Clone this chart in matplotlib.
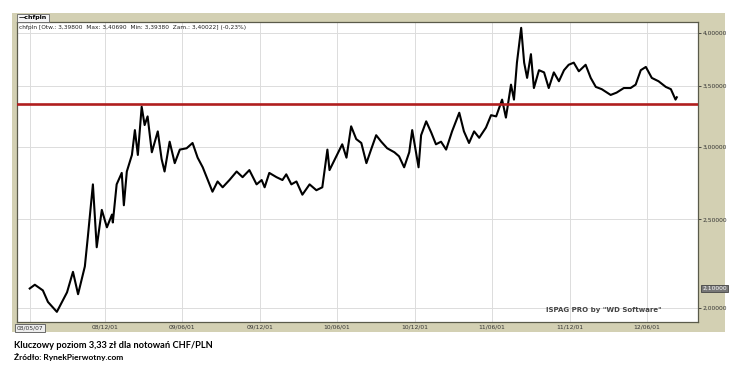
import datetime as dt
import matplotlib
matplotlib.use("Agg")
import matplotlib.pyplot as plt
import matplotlib.transforms as mtransforms
from matplotlib.patches import Rectangle
from matplotlib.ticker import NullLocator, NullFormatter

# CHF/PLN close (roughly every two weeks)
dates = [
    "2008-06-06", "2008-06-18", "2008-07-07", "2008-07-19", "2008-08-09", "2008-08-21",
    "2008-09-02", "2008-09-16", "2008-09-28", "2008-10-14", "2008-10-21", "2008-11-02",
    "2008-11-11", "2008-11-23", "2008-12-05", "2008-12-17", "2008-12-19", "2008-12-28",
    "2009-01-09", "2009-01-14", "2009-01-21", "2009-02-02", "2009-02-09", "2009-02-16",
    "2009-02-25", "2009-03-04", "2009-03-11", "2009-03-21", "2009-04-04", "2009-04-13",
    "2009-04-20", "2009-05-02", "2009-05-14", "2009-05-26", "2009-06-11", "2009-06-25",
    "2009-07-07", "2009-07-19", "2009-07-31", "2009-08-11", "2009-08-23", "2009-09-04",
    "2009-09-20", "2009-10-07", "2009-10-21", "2009-11-06", "2009-11-23", "2009-12-05",
    "2009-12-12", "2009-12-23", "2010-01-09", "2010-01-23", "2010-02-01", "2010-02-13",
    "2010-02-25", "2010-03-11", "2010-03-28", "2010-04-13", "2010-04-27", "2010-05-09",
    "2010-05-14", "2010-05-30", "2010-06-13", "2010-06-23", "2010-07-04", "2010-07-16",
    "2010-07-28", "2010-08-09", "2010-08-20", "2010-09-01", "2010-09-13", "2010-09-27",
    "2010-10-14", "2010-10-25", "2010-11-06", "2010-11-18", "2010-11-25", "2010-12-10",
    "2010-12-16", "2010-12-28", "2011-01-09", "2011-01-20", "2011-02-01", "2011-02-13",
    "2011-02-27", "2011-03-16", "2011-03-27", "2011-04-08", "2011-04-20", "2011-05-02",
    "2011-05-18", "2011-05-30", "2011-06-11", "2011-06-25", "2011-07-04", "2011-07-16",
    "2011-07-23", "2011-07-30", "2011-08-09", "2011-08-16", "2011-08-23", "2011-09-01",
    "2011-09-08", "2011-09-20", "2011-10-02", "2011-10-13", "2011-10-25", "2011-11-06",
    "2011-11-18", "2011-11-29", "2011-12-11", "2011-12-23", "2012-01-08", "2012-01-20",
    "2012-02-01", "2012-02-15", "2012-03-07", "2012-03-21", "2012-04-07", "2012-04-23",
    "2012-05-05", "2012-05-17", "2012-05-29", "2012-06-12", "2012-06-28", "2012-07-15",
    "2012-07-27", "2012-08-07", "2012-08-10",
]
prices = [
    2.10, 2.12, 2.09, 2.03, 1.98, 2.03,
    2.08, 2.19, 2.07, 2.22, 2.39, 2.73,
    2.33, 2.56, 2.45, 2.53, 2.48, 2.73,
    2.81, 2.59, 2.82, 2.94, 3.13, 2.94,
    3.32, 3.17, 3.24, 2.96, 3.12, 2.91,
    2.82, 3.04, 2.88, 2.98, 2.99, 3.03,
    2.92, 2.85, 2.76, 2.68, 2.75, 2.71,
    2.76, 2.82, 2.78, 2.83, 2.73, 2.76,
    2.71, 2.81, 2.78, 2.76, 2.80, 2.73,
    2.75, 2.66, 2.73, 2.69, 2.71, 2.98,
    2.83, 2.93, 3.02, 2.92, 3.16, 3.06,
    3.03, 2.88, 2.98, 3.09, 3.04, 2.99,
    2.96, 2.93, 2.85, 2.96, 3.13, 2.85,
    3.09, 3.20, 3.11, 3.02, 3.04, 2.98,
    3.12, 3.27, 3.12, 3.03, 3.12, 3.07,
    3.15, 3.25, 3.24, 3.38, 3.23, 3.51,
    3.38, 3.71, 4.05, 3.71, 3.57, 3.79,
    3.48, 3.64, 3.62, 3.48, 3.62, 3.54,
    3.64, 3.69, 3.71, 3.63, 3.69, 3.57,
    3.49, 3.47, 3.42, 3.44, 3.48, 3.48,
    3.51, 3.64, 3.67, 3.57, 3.54, 3.49,
    3.47, 3.38, 3.40,
]

KEY_LEVEL = 3.34
y_ticks = [2.0, 2.5, 3.0, 3.5, 4.0]
x_ticks = ["2008-12-01", "2009-06-01", "2009-12-01", "2010-06-01",
           "2010-12-01", "2011-06-01", "2011-12-01", "2012-06-01"]
first_date_label = "08/05/07"
cursor_value = 2.10

BEIGE = "#d3d0b3"
W, H = 741, 368

x = [dt.datetime.strptime(d, "%Y-%m-%d") for d in dates]
xt = [dt.datetime.strptime(d, "%Y-%m-%d") for d in x_ticks]

fig = plt.figure(figsize=(W / 100, H / 100), dpi=100)
fig.patches.append(Rectangle((12 / W, 36 / H), 713 / W, 319 / H, transform=fig.transFigure,
                             facecolor=BEIGE, edgecolor="none", zorder=-10))

ax = fig.add_axes([17 / W, 46 / H, 681 / W, 300 / H])
ax.set_yscale("log")
ax.plot(x, prices, color="black", lw=1.5, zorder=3)
ax.axhline(KEY_LEVEL, color="#b01e1e", lw=1.9, zorder=4)

ax.set_xlim(dt.datetime(2008, 5, 7), dt.datetime(2012, 9, 29))
ax.set_ylim(1.93, 4.11)

# grid
for v in y_ticks:
    ax.axhline(v, color="#dcdcdc", lw=0.7, zorder=1)
for d in xt + [x[0]]:
    ax.axvline(d, color="#dcdcdc", lw=0.7, zorder=1)

ax.yaxis.tick_right()
ax.set_yticks(y_ticks)
ax.set_yticklabels([f"{v:.5f}".replace(".", ",") for v in y_ticks])
ax.yaxis.set_minor_locator(NullLocator())
ax.yaxis.set_minor_formatter(NullFormatter())
ax.tick_params(axis="y", which="major", length=2, width=0.6, pad=1.5,
               labelsize=4.3, colors="#333333")

ax.set_xticks(xt)
ax.set_xticklabels([d.strftime("%y/%m/%d") for d in xt])
ax.tick_params(axis="x", length=0, pad=2, labelsize=4.3, colors="#333333")

for s in ax.spines.values():
    s.set_color("#5a5a4a")
    s.set_linewidth(0.9)

# cursor boxes
blend_x = mtransforms.blended_transform_factory(ax.transData, ax.transAxes)
ax.text(x[0], -0.013, first_date_label, transform=blend_x, ha="center", va="top",
        fontsize=4.3, color="#333333",
        bbox=dict(boxstyle="square,pad=0.25", facecolor="#eeeeee", edgecolor="#555555", lw=0.6))
blend_y = mtransforms.blended_transform_factory(ax.transAxes, ax.transData)
ax.text(1.006, cursor_value, f"{cursor_value:.5f}".replace(".", ","), transform=blend_y,
        ha="left", va="center", fontsize=4.3, color="white",
        bbox=dict(boxstyle="square,pad=0.25", facecolor="#777777", edgecolor="#444444", lw=0.6))

# header
fig.text(19 / W, 1 - 18 / H, "\u2014chfpln", fontsize=4.5, fontweight="bold", ha="left", va="center",
         bbox=dict(boxstyle="square,pad=0.3", facecolor="#f4f4f4", edgecolor="#666666", lw=0.6))
fig.text(19 / W, 1 - 27 / H,
         "chfpln [Otw.: 3,39800  Max: 3,40690  Min: 3,39380  Zam.: 3,40022] (-0,23%)",
         fontsize=4.2, ha="left", va="center", color="#222222")

ax.text(0.946, 0.04, "ISPAG PRO by \"WD Software\"", transform=ax.transAxes,
        ha="right", va="center", fontsize=5, fontweight="bold", color="#444444")

# caption
fig.text(14 / W, 1 - 345 / H, "Kluczowy poziom 3,33 zł dla notowań CHF/PLN",
         family="Lato", fontweight="bold", fontsize=6.7, ha="left", va="center")
fig.text(14 / W, 1 - 357 / H, "Źródło: RynekPierwotny.com",
         family="Lato", fontweight="bold", fontsize=6.0, ha="left", va="center")

fig.savefig("out.png", dpi=100)
